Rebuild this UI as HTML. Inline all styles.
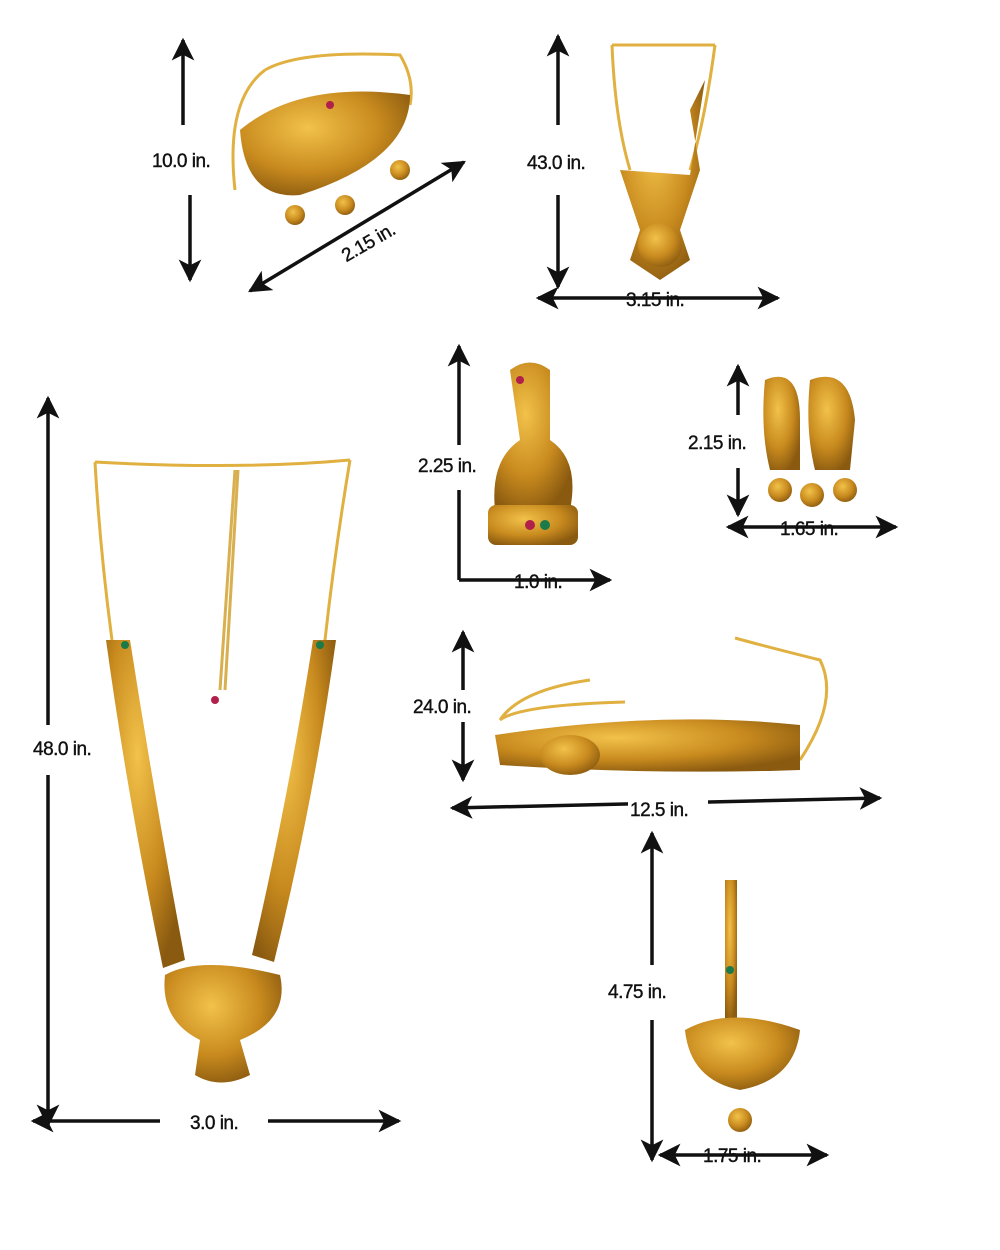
<!DOCTYPE html>
<html><head><meta charset="utf-8"><style>
html,body{margin:0;padding:0;background:#fff;}
svg{display:block}
text{font-family:"Liberation Sans",sans-serif;font-size:19px;fill:#111;stroke:#111;stroke-width:0.4;letter-spacing:-0.5px;}
</style></head><body>
<svg width="1000" height="1250" viewBox="0 0 1000 1250" xmlns="http://www.w3.org/2000/svg">
<defs>
<marker id="a" viewBox="0 0 10 10" refX="9" refY="5" markerWidth="6.5" markerHeight="6.5" orient="auto-start-reverse" markerUnits="strokeWidth"><path d="M0,0 L10,5 L0,10 L2.5,5 z" fill="#111"/></marker>
<radialGradient id="g" cx="40%" cy="35%" r="70%"><stop offset="0" stop-color="#f2c24a"/><stop offset="0.6" stop-color="#c88a1e"/><stop offset="1" stop-color="#8a5a10"/></radialGradient>
</defs>
<g stroke="#111" stroke-width="3.5" fill="none">
<line x1="183" y1="125" x2="183" y2="40" marker-end="url(#a)"/>
<line x1="190" y1="195" x2="190" y2="280" marker-end="url(#a)"/>
<line x1="250" y1="291" x2="464" y2="162" marker-start="url(#a)" marker-end="url(#a)"/>
<line x1="558" y1="125" x2="558" y2="36" marker-end="url(#a)"/>
<line x1="558" y1="195" x2="558" y2="287" marker-end="url(#a)"/>
<line x1="538" y1="298" x2="778" y2="298" marker-start="url(#a)" marker-end="url(#a)"/>
<line x1="459" y1="445" x2="459" y2="346" marker-end="url(#a)"/>
<line x1="459" y1="490" x2="459" y2="580"/>
<line x1="459" y1="580" x2="610" y2="580" marker-end="url(#a)"/>
<line x1="738" y1="415" x2="738" y2="366" marker-end="url(#a)"/>
<line x1="738" y1="468" x2="738" y2="515" marker-end="url(#a)"/>
<line x1="728" y1="527" x2="896" y2="527" marker-start="url(#a)" marker-end="url(#a)"/>
<line x1="48" y1="725" x2="48" y2="398" marker-end="url(#a)"/>
<line x1="48" y1="775" x2="48" y2="1125" marker-end="url(#a)"/>
<line x1="33" y1="1121" x2="160" y2="1121" marker-start="url(#a)"/>
<line x1="268" y1="1121" x2="399" y2="1121" marker-end="url(#a)"/>
<line x1="463" y1="690" x2="463" y2="632" marker-end="url(#a)"/>
<line x1="463" y1="722" x2="463" y2="780" marker-end="url(#a)"/>
<line x1="452" y1="808" x2="880" y2="798" marker-start="url(#a)" marker-end="url(#a)"/>
<line x1="652" y1="965" x2="652" y2="833" marker-end="url(#a)"/>
<line x1="652" y1="1020" x2="652" y2="1160" marker-end="url(#a)"/>
<line x1="660" y1="1155" x2="827" y2="1155" marker-start="url(#a)" marker-end="url(#a)"/>
</g>
<g fill="#fff">
<rect x="628" y="796" width="80" height="22"/>
</g>
<text x="152" y="167">10.0 in.</text>
<text x="330" y="248" transform="rotate(-30 365 225)">2.15 in.</text>
<text x="527" y="169">43.0 in.</text>
<text x="626" y="306">3.15 in.</text>
<text x="418" y="472">2.25  in.</text>
<text x="514" y="588">1.0 in.</text>
<text x="688" y="449">2.15 in.</text>
<text x="780" y="535">1.65 in.</text>
<text x="33" y="755">48.0 in.</text>
<text x="190" y="1129">3.0 in.</text>
<text x="413" y="713">24.0 in.</text>
<text x="630" y="816">12.5 in.</text>
<text x="608" y="998">4.75 in.</text>
<text x="703" y="1162">1.75 in.</text>
<g fill="none" stroke="#e0b040" stroke-width="3">
<path d="M265,70 Q300,50 400,55 Q415,80 410,105"/>
<path d="M265,70 Q225,100 235,190"/>
<path d="M612,45 L715,45 M612,45 Q615,120 630,170 M715,45 Q705,120 690,170"/>
<path d="M95,462 Q240,470 350,460 M95,462 Q100,550 112,640 M350,460 Q335,550 325,640"/>
<path d="M235,470 L220,690 M238,470 L225,690" stroke="#d8b050"/>
<path d="M500,720 Q520,690 590,680 M500,720 Q520,705 625,702"/>
<path d="M800,760 Q840,700 820,660 Q760,645 735,638"/>
</g>
<g fill="url(#g)">
<path d="M240,130 Q300,80 410,95 Q410,160 300,195 Q245,200 240,130z"/>
<circle cx="295" cy="215" r="10"/><circle cx="345" cy="205" r="10"/><circle cx="400" cy="170" r="10"/>
<path d="M620,170 L640,230 L630,260 L660,280 L690,260 L680,230 L700,170 L690,110 L705,80 L690,175z"/>
<circle cx="660" cy="245" r="22"/>
<path d="M510,370 Q530,355 550,370 L550,440 Q580,460 570,510 L495,510 Q490,460 520,440z"/>
<rect x="488" y="505" width="90" height="40" rx="8"/>
<path d="M765,380 Q800,365 800,420 L800,470 L770,470 Q760,430 765,380z"/>
<path d="M810,380 Q850,365 855,420 L850,470 L815,470 Q805,430 810,380z"/>
<circle cx="780" cy="490" r="12"/><circle cx="812" cy="495" r="12"/><circle cx="845" cy="490" r="12"/>
<path d="M106,640 L130,640 Q155,800 185,960 L163,968 Q128,800 106,640z"/>
<path d="M313,640 L336,640 Q314,800 274,962 L252,955 Q288,800 313,640z"/>
<path d="M165,975 Q200,955 280,975 Q290,1020 240,1040 L250,1075 Q220,1090 195,1075 L200,1040 Q160,1020 165,975z"/>
<path d="M495,735 Q660,710 800,725 L800,770 Q650,775 500,765z"/>
<ellipse cx="570" cy="755" rx="30" ry="20"/>
<rect x="725" y="880" width="12" height="140"/>
<path d="M685,1030 Q730,1005 800,1030 Q795,1080 740,1090 Q690,1080 685,1030z"/>
<circle cx="740" cy="1120" r="12"/>
</g>
<g fill="#b0204a"><circle cx="330" cy="105" r="4"/><circle cx="520" cy="380" r="4"/><circle cx="530" cy="525" r="5"/><circle cx="215" cy="700" r="4"/></g>
<g fill="#1a7a4a"><circle cx="545" cy="525" r="5"/><circle cx="125" cy="645" r="4"/><circle cx="320" cy="645" r="4"/><circle cx="730" cy="970" r="4"/></g>
</svg>
</body></html>
